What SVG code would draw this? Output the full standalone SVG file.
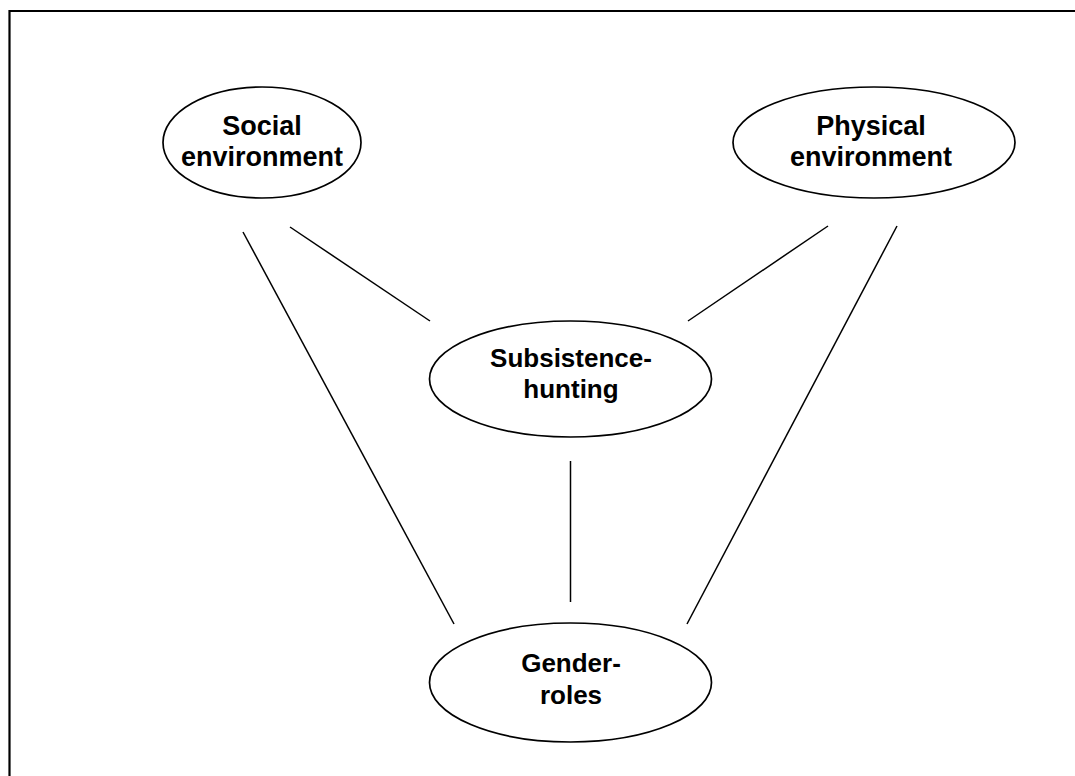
<svg xmlns="http://www.w3.org/2000/svg" width="1075" height="776" viewBox="0 0 1075 776">
<style>
.n ellipse{fill:#fff;stroke:#000;stroke-width:1.7}
.n text{font-family:"Liberation Sans",Arial,sans-serif;font-weight:bold;font-size:26px;text-anchor:middle;fill:#000}
.n text.t{font-size:27px}
.c line{stroke:#000;stroke-width:1.5}
</style>
<rect width="1075" height="776" fill="#fff"/>
<path d="M9.5 776 V11 H1075" fill="none" stroke="#000" stroke-width="2.2"/>
<g class="c" id="connectors">
<line x1="243" y1="232" x2="454" y2="624"/>
<line x1="290" y1="227" x2="430" y2="321"/>
<line x1="828" y1="226" x2="688" y2="321"/>
<line x1="897" y1="226" x2="687" y2="624"/>
<line x1="570.5" y1="461" x2="570.5" y2="602"/>
</g>
<g class="n" id="social">
<ellipse cx="262" cy="142.5" rx="99" ry="55.5"/>
<text class="t" x="262" y="135">Social</text>
<text class="t" x="262" y="166">environment</text>
</g>
<g class="n" id="physical">
<ellipse cx="874" cy="142.5" rx="141" ry="55.5"/>
<text class="t" x="871" y="135">Physical</text>
<text class="t" x="871" y="166">environment</text>
</g>
<g class="n" id="subsistence">
<ellipse cx="570.5" cy="379" rx="141" ry="58"/>
<text x="571" y="367">Subsistence-</text>
<text x="571" y="398">hunting</text>
</g>
<g class="n" id="gender">
<ellipse cx="570.5" cy="682.5" rx="141" ry="59.5"/>
<text x="571" y="672">Gender-</text>
<text x="571" y="704">roles</text>
</g>
</svg>
